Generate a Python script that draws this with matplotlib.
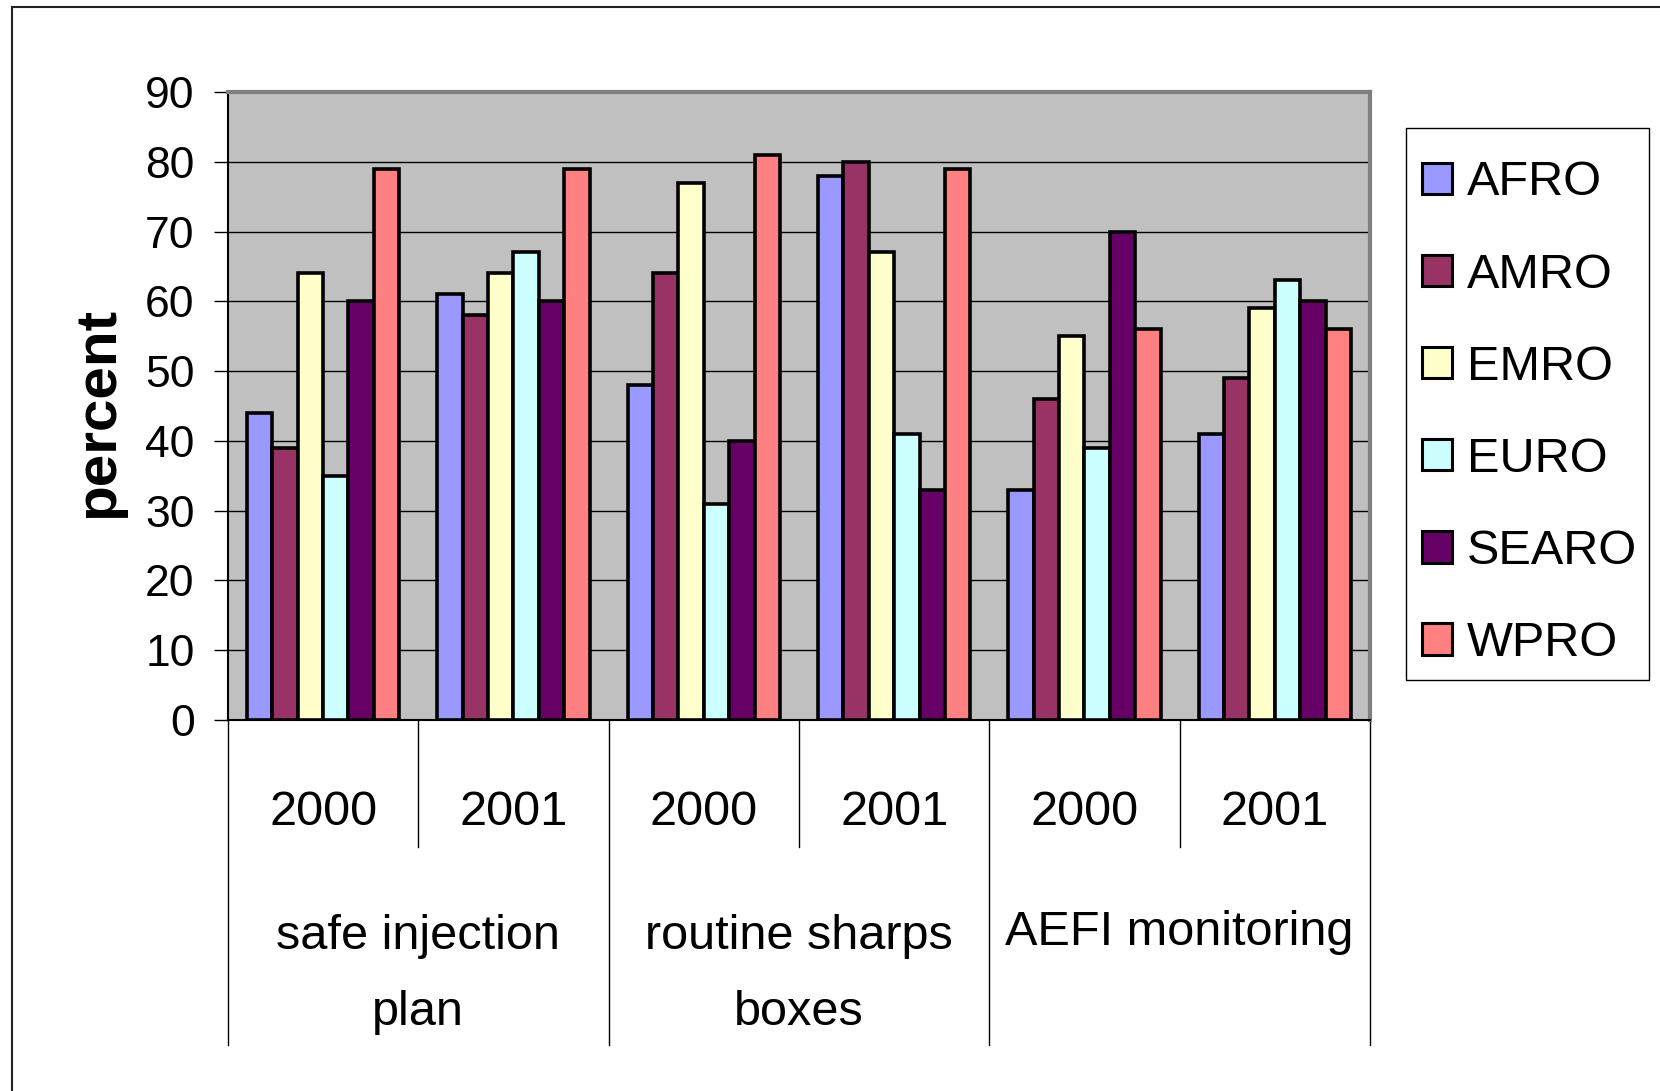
import numpy as np
import matplotlib
matplotlib.use('Agg')
import matplotlib.pyplot as plt
from matplotlib.lines import Line2D
from matplotlib.patches import Rectangle
import matplotlib.transforms as mtransforms

plt.rcParams['font.family'] = ['Liberation Sans', 'DejaVu Sans']

# data
regions = ['AFRO', 'AMRO', 'EMRO', 'EURO', 'SEARO', 'WPRO']
years = ['2000', '2001', '2000', '2001', '2000', '2001']
indicators = ['safe injection\nplan', 'routine sharps\nboxes', 'AEFI monitoring']

afro = [44, 61, 48, 78, 33, 41]
amro = [39, 58, 64, 80, 46, 49]
emro = [64, 64, 77, 67, 55, 59]
euro = [35, 67, 31, 41, 39, 63]
searo = [60, 60, 40, 33, 70, 60]
wpro = [79, 79, 81, 79, 56, 56]
series = [afro, amro, emro, euro, searo, wpro]

colors = ['#9999FF', '#993366', '#FFFFCC', '#CCFFFF', '#660066', '#FF8080']

fig = plt.figure(figsize=(16.6, 10.91), dpi=100)
ax = fig.add_axes([0.1373, 0.340, 0.6880, 0.5757])
ax.set_facecolor('#C0C0C0')

x = np.arange(len(years))
w = 1 / 7.5
for k, (vals, c, name) in enumerate(zip(series, colors, regions)):
    ax.bar(x + (k - 2.5) * w, vals, w, color=c, edgecolor='black',
           linewidth=2.6, label=name, zorder=3)

ax.set_xlim(-0.5, len(years) - 0.5)
ax.set_ylim(0, 90)
ax.set_yticks(range(0, 91, 10))
ax.yaxis.grid(True, color='black', linewidth=1)
ax.set_axisbelow(True)
ax.tick_params(axis='y', direction='out', length=10, width=1, pad=14, labelsize=32)
ax.set_xticks([])

ax.spines['top'].set_color('#808080')
ax.spines['top'].set_linewidth(3)
ax.spines['right'].set_color('#808080')
ax.spines['right'].set_linewidth(3)
ax.spines['left'].set_linewidth(1.5)
ax.spines['bottom'].set_linewidth(1.5)

ax.set_ylabel('percent', fontweight='bold', fontsize=42)
ax.yaxis.set_label_coords(-0.090, 0.489)

# two-level category axis
trans = mtransforms.blended_transform_factory(ax.transData, ax.transAxes)
for i, yr in enumerate(years):
    ax.text(i, -0.1465, yr, transform=trans, ha='center', va='center', fontsize=35)
for i in range(1, len(years), 2):
    ax.plot([i - 0.5, i - 0.5], [0, -0.202], transform=trans, color='black',
            linewidth=1, clip_on=False)
for j, lab in enumerate(indicators):
    ypos = -0.405 if '\n' in lab else -0.3376
    ax.text(2 * j + 0.5, ypos, lab, transform=trans, ha='center', va='center',
            fontsize=35, linespacing=1.9)
for j in range(len(indicators) + 1):
    ax.plot([2 * j - 0.5, 2 * j - 0.5], [0, -0.5175], transform=trans,
            color='black', linewidth=1, clip_on=False)

# legend: entries without frame, box drawn separately
leg = fig.legend(loc='upper left', bbox_to_anchor=(0.8566, 0.853), fontsize=35,
                 frameon=False, borderaxespad=0, borderpad=0,
                 handlelength=0.62, handleheight=0.62, handletextpad=0.3,
                 labelspacing=0.97)
for h in leg.legend_handles:
    h.set_linewidth(2.2)
fig.add_artist(Rectangle((0.847, 0.3767), 0.1464, 0.5060, transform=fig.transFigure,
                         facecolor='none', edgecolor='black', linewidth=1))

# outer frame (top and left edges visible)
fig.add_artist(Line2D([0.00723, 0.00723], [0, 0.9933], transform=fig.transFigure,
                      color='#222222', linewidth=1.5))
fig.add_artist(Line2D([0.00723, 1], [0.9933, 0.9933], transform=fig.transFigure,
                      color='#222222', linewidth=1.5))

fig.savefig('out.png', dpi=100)
